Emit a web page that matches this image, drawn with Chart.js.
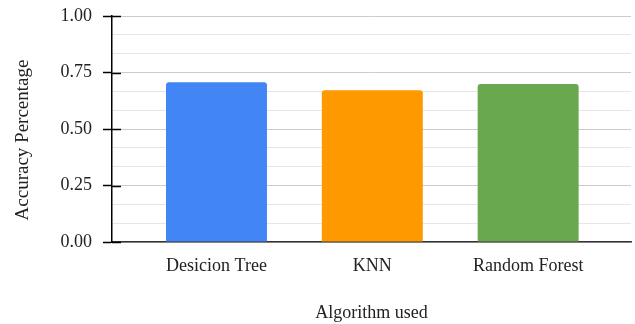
<!DOCTYPE html>
<html>
<head>
<meta charset="utf-8">
<script src="https://cdn.jsdelivr.net/npm/chart.js@4.4.1/dist/chart.umd.min.js"></script>
<style>
  html, body { margin: 0; padding: 0; background: #fff; }
  canvas { display: block; }
</style>
</head>
<body>
<canvas id="c" width="635" height="324"></canvas>
<script>
// Accuracy per algorithm
const algorithms = ['Desicion Tree', 'KNN', 'Random Forest'];
const accuracy = [0.707, 0.672, 0.699];
const barColors = ['#4285F4', '#FF9900', '#6AA84F'];

// Value axis: labelled major ticks, with minor grid lines between them
const yTickLabels = ['0.00', '0.25', '0.50', '0.75', '1.00'];
const yMajorValues = [0, 0.25, 0.5, 0.75, 1];
const minorPerMajor = 3;

const xTitle = 'Algorithm used';
const yTitle = 'Accuracy Percentage';

const FONT = '"Liberation Serif", "Times New Roman", serif';

// Grid values: every major step split into equal minor steps
const gridValues = [];
for (let m = 0; m < yMajorValues.length - 1; m++) {
  const a = yMajorValues[m], b = yMajorValues[m + 1];
  for (let k = 0; k < minorPerMajor; k++) gridValues.push(a + (b - a) * k / minorPerMajor);
}
gridValues.push(yMajorValues[yMajorValues.length - 1]);
const isMajor = (i) => i % minorPerMajor === 0;

// Short tick marks that cross into the plot, plus the rotated value-axis title
const axisDecor = {
  id: 'axisDecor',
  afterDraw(chart) {
    const { ctx, chartArea, scales: { y } } = chart;
    ctx.save();
    ctx.strokeStyle = '#000';
    ctx.lineWidth = 1.5;
    yMajorValues.forEach(v => {
      const py = Math.round(y.getPixelForValue(v)) + 0.5;
      ctx.beginPath();
      ctx.moveTo(chartArea.left, py);
      ctx.lineTo(chartArea.left + 9, py);
      ctx.stroke();
    });
    ctx.translate(23, (chartArea.top + chartArea.bottom) / 2 + 11);
    ctx.rotate(-Math.PI / 2);
    ctx.fillStyle = '#222';
    ctx.font = '19px ' + FONT;
    ctx.textAlign = 'center';
    ctx.textBaseline = 'middle';
    ctx.fillText(yTitle, 0, 0);
    ctx.restore();
  }
};

new Chart(document.getElementById('c'), {
  type: 'bar',
  data: {
    datasets: [{
      data: algorithms.map((name, i) => ({ x: i, y: accuracy[i] })),
      backgroundColor: barColors,
      borderWidth: 0,
      borderRadius: { topLeft: 3, topRight: 3, bottomLeft: 0, bottomRight: 0 },
      borderSkipped: 'bottom',
      categoryPercentage: 1,
      barPercentage: 0.648
    }]
  },
  plugins: [axisDecor],
  options: {
    responsive: false,
    animation: false,
    events: [],
    layout: { padding: { top: 16, right: 4, left: 0, bottom: 0 } },
    plugins: { legend: { display: false }, tooltip: { enabled: false } },
    scales: {
      x: {
        type: 'linear',
        offset: false,
        min: -0.6705,
        max: 2.66,
        afterBuildTicks: (axis) => { axis.ticks = algorithms.map((_, i) => ({ value: i })); },
        afterFit: (axis) => { axis.height = 82; axis.paddingLeft = 0; axis.paddingRight = 0; },
        grid: { display: false },
        border: { display: true, color: '#333', width: 1.5 },
        ticks: {
          autoSkip: false,
          maxRotation: 0,
          padding: 5,
          color: '#222',
          font: { family: FONT, size: 18 },
          callback: (v) => algorithms[v]
        },
        title: {
          display: true,
          text: xTitle,
          color: '#222',
          font: { family: FONT, size: 18 },
          padding: { top: 0, bottom: 0 }
        }
      },
      y: {
        min: 0,
        max: 1,
        afterBuildTicks: (axis) => { axis.ticks = gridValues.map(v => ({ value: v })); },
        afterFit: (axis) => { axis.width = 112; axis.paddingTop = 0; axis.paddingBottom = 0; },
        grid: {
          color: (c) => isMajor(c.index) ? '#cccccc' : '#e6e6e6',
          lineWidth: 1,
          tickLength: 9,
          tickColor: (c) => isMajor(c.index) ? '#000' : 'rgba(0,0,0,0)',
          tickWidth: 1.5
        },
        border: { display: true, color: '#000', width: 1.5 },
        ticks: {
          autoSkip: false,
          padding: 11,
          color: '#222',
          font: { family: FONT, size: 18 },
          callback: (v, i) => isMajor(i) ? yTickLabels[i / minorPerMajor] : ''
        }
      }
    }
  }
});
</script>
</body>
</html>
